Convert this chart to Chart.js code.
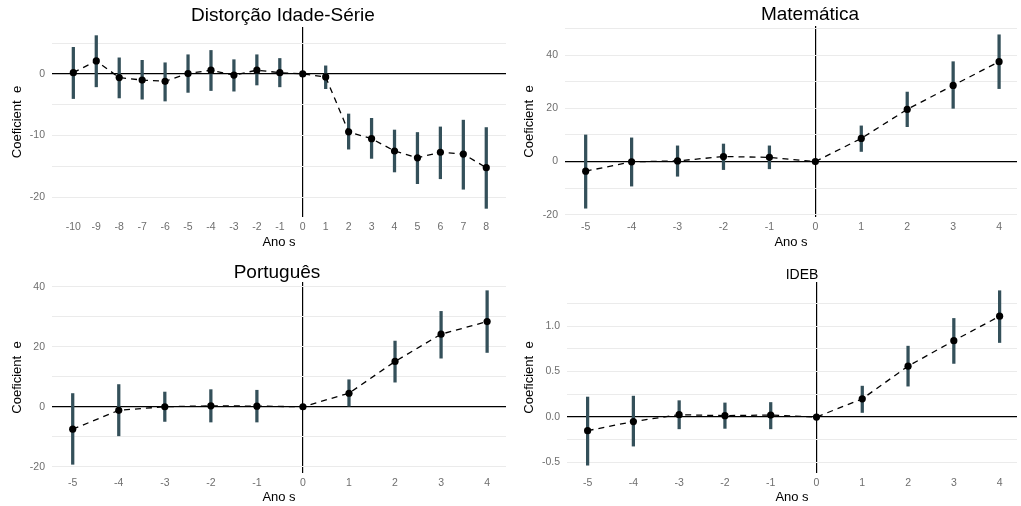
<!DOCTYPE html>
<html>
<head>
<meta charset="utf-8">
<script src="https://cdn.jsdelivr.net/npm/chart.js@4.4.1/dist/chart.umd.min.js"></script>
<style>
  body { margin: 0; background: #fff; }
  canvas { position: absolute; }
</style>
</head>
<body>
<canvas id="c1" width="510" height="253" style="left:0;top:0"></canvas>
<canvas id="c2" width="511" height="253" style="left:510px;top:0"></canvas>
<canvas id="c3" width="510" height="253" style="left:0;top:253px"></canvas>
<canvas id="c4" width="511" height="253" style="left:510px;top:253px"></canvas>
<script>
// anos relativos ao evento
const anosDistorcao = [-10, -9, -8, -7, -6, -5, -4, -3, -2, -1, 0, 1, 2, 3, 4, 5, 6, 7, 8]
const anos = [-5, -4, -3, -2, -1, 0, 1, 2, 3, 4]

// Distorção Idade-Série
const coefDistorcao = [0.2, 2.1, -0.6, -1.0, -1.2, 0.05, 0.6, -0.2, 0.6, 0.2, 0, -0.5, -9.4, -10.5, -12.5, -13.6, -12.7, -13.0, -15.2]
const infDistorcao = [-4.0, -2.1, -3.9, -4.1, -4.4, -3.0, -2.7, -2.8, -1.8, -2.1, null, -2.4, -12.2, -13.7, -15.9, -17.8, -17.0, -18.7, -21.8]
const supDistorcao = [4.3, 6.2, 2.6, 2.2, 1.8, 3.1, 3.8, 2.3, 3.1, 2.5, null, 1.3, -6.5, -7.2, -9.1, -9.5, -8.6, -7.5, -8.7]

// Matemática
const coefMat = [-3.6, -0.1, 0.25, 1.9, 1.6, 0, 8.7, 19.6, 28.6, 37.5]
const infMat = [-17.5, -9.2, -5.5, -3.0, -2.7, null, 3.8, 13.1, 20.0, 27.4]
const supMat = [10.0, 8.9, 5.9, 6.6, 5.9, null, 13.4, 26.1, 37.5, 47.6]

// Português
const coefPort = [-7.5, -1.2, 0, 0.3, 0.2, 0, 4.5, 15.1, 24.2, 28.4]
const infPort = [-19.2, -9.7, -4.9, -5.1, -5.1, null, 0.0, 8.2, 16.2, 18.1]
const supPort = [4.4, 7.4, 4.9, 5.7, 5.5, null, 9.0, 21.9, 31.8, 38.7]

// IDEB
const coefIdeb = [-0.15, -0.05, 0.026, 0.015, 0.022, 0, 0.2, 0.56, 0.84, 1.11]
const infIdeb = [-0.53, -0.32, -0.13, -0.125, -0.13, null, 0.05, 0.34, 0.59, 0.82]
const supIdeb = [0.22, 0.23, 0.18, 0.155, 0.16, null, 0.34, 0.78, 1.085, 1.39]

// marcas do eixo y (com rótulo) e linhas secundárias
const yTicksDistorcao = [-20, -10, 0]
const yMinorDistorcao = [-15, -5, 5]
const yTicksMat = [-20, 0, 20, 40]
const yMinorMat = [-10, 10, 30, 50]
const yTicksPort = [-20, 0, 20, 40]
const yMinorPort = [-10, 10, 30]
const yTicksIdeb = [-0.5, 0.0, 0.5, 1.0]
const yMinorIdeb = [-0.25, 0.25, 0.75, 1.25]

Chart.defaults.font.family = '"Liberation Sans", Arial, sans-serif'
Chart.defaults.animation = false

// título do painel centrado na área do gráfico
const panelTitle = {
   id: 'panelTitle',
   afterDraw(chart, args, opts) {
      const { ctx, chartArea } = chart
      ctx.save()
      ctx.font = `${opts.size}px "Liberation Sans", Arial, sans-serif`
      ctx.fillStyle = '#000'
      ctx.textAlign = 'center'
      ctx.textBaseline = 'alphabetic'
      ctx.fillText(opts.text, (chartArea.left + chartArea.right) / 2 + opts.dx, opts.baseline)
      ctx.restore()
   }
}

function renderPanel(id, p) {
   const barras = p.x
      .map((x, i) => ({ x: x, y: [p.lo[i], p.hi[i]] }))
      .filter(d => d.y[0] !== null)
   const pontos = p.x.map((x, i) => ({ x: x, y: p.coef[i] }))
   const yAll = [...p.yTicks, ...p.yMinor].sort((a, b) => a - b)

   return new Chart(document.getElementById(id), {
      type: 'line',
      data: {
         datasets: [
            {
               type: 'line',
               data: pontos,
               borderColor: '#000',
               borderWidth: 1.3,
               borderDash: [6, 5],
               tension: 0,
               pointRadius: 3.6,
               pointBackgroundColor: '#000',
               pointBorderWidth: 0,
               order: 0
            },
            {
               type: 'bar',
               data: barras,
               backgroundColor: '#34505a',
               borderWidth: 0,
               barThickness: 2.6,
               order: 1
            }
         ]
      },
      options: {
         responsive: false,
         devicePixelRatio: 1,
         layout: { padding: { top: p.top, left: 0, right: 0, bottom: 0 } },
         plugins: {
            legend: { display: false },
            tooltip: { enabled: false },
            panelTitle: { text: p.title, size: p.titleSize, dx: p.titleDx, baseline: p.titleBase }
         },
         scales: {
            x: {
               type: 'linear',
               offset: false,
               min: p.xMin,
               max: p.xMax,
               afterBuildTicks: (s) => { s.ticks = p.x.map(v => ({ value: v })) },
               afterFit: (s) => { s.height = p.xHeight },
               border: { display: false },
               grid: {
                  offset: false,
                  drawTicks: false,
                  color: (c) => c.tick && c.tick.value === 0 ? '#000' : 'rgba(0,0,0,0)',
                  lineWidth: 1.2
               },
               ticks: {
                  autoSkip: false,
                  maxRotation: 0,
                  padding: 4,
                  color: '#6e6e6e',
                  font: { size: 10.5 },
                  callback: (v) => String(v)
               },
               title: {
                  display: true,
                  text: 'Ano s',
                  color: '#000',
                  font: { size: 13 },
                  padding: { top: 0, bottom: p.xTitlePad }
               }
            },
            y: {
               type: 'linear',
               min: p.yMin,
               max: p.yMax,
               afterBuildTicks: (s) => { s.ticks = yAll.map(v => ({ value: v })) },
               afterFit: (s) => { s.width = p.yWidth },
               border: { display: false },
               grid: {
                  drawTicks: false,
                  color: (c) => c.tick && c.tick.value === 0 ? '#000' : '#ebebeb',
                  lineWidth: (c) => c.tick && c.tick.value === 0 ? 1.2 : 1
               },
               ticks: {
                  padding: 7,
                  color: '#6e6e6e',
                  font: { size: 10.5 },
                  callback: (v) => p.yTicks.includes(v) ? (p.decimals ? v.toFixed(p.decimals) : String(v)) : ''
               },
               title: {
                  display: true,
                  text: 'Coeficient  e',
                  color: '#000',
                  font: { size: 13 },
                  padding: { top: p.yTitlePad, bottom: 0 }
               }
            }
         }
      },
      plugins: [panelTitle]
   })
}

renderPanel('c1', {
   title: 'Distorção Idade-Série', titleSize: 19, titleDx: 4, titleBase: 21,
   x: anosDistorcao, coef: coefDistorcao, lo: infDistorcao, hi: supDistorcao,
   yTicks: yTicksDistorcao, yMinor: yMinorDistorcao,
   xMin: -10.93, xMax: 8.86, yMin: -23.2, yMax: 7.6,
   top: 27, yWidth: 52, xHeight: 36, xTitlePad: 3, yTitlePad: 10
})
renderPanel('c2', {
   title: 'Matemática', titleSize: 19, titleDx: 19, titleBase: 20,
   x: anos, coef: coefMat, lo: infMat, hi: supMat,
   yTicks: yTicksMat, yMinor: yMinorMat,
   xMin: -5.45, xMax: 4.39, yMin: -20.8, yMax: 50.9,
   top: 26, yWidth: 55, xHeight: 36, xTitlePad: 3, yTitlePad: 12
})
renderPanel('c3', {
   title: 'Português', titleSize: 19, titleDx: -2, titleBase: 25,
   x: anos, coef: coefPort, lo: infPort, hi: supPort,
   yTicks: yTicksPort, yMinor: yMinorPort,
   xMin: -5.45, xMax: 4.41, yMin: -22.1, yMax: 41.6,
   top: 29, yWidth: 52, xHeight: 33, xTitlePad: 1, yTitlePad: 10
})
renderPanel('c4', {
   title: 'IDEB', titleSize: 14, titleDx: 10, titleBase: 26,
   x: anos, coef: coefIdeb, lo: infIdeb, hi: supIdeb, decimals: 1,
   yTicks: yTicksIdeb, yMinor: yMinorIdeb,
   xMin: -5.45, xMax: 4.38, yMin: -0.616, yMax: 1.486,
   top: 29, yWidth: 57, xHeight: 33, xTitlePad: 1, yTitlePad: 12
})
</script>
</body>
</html>
